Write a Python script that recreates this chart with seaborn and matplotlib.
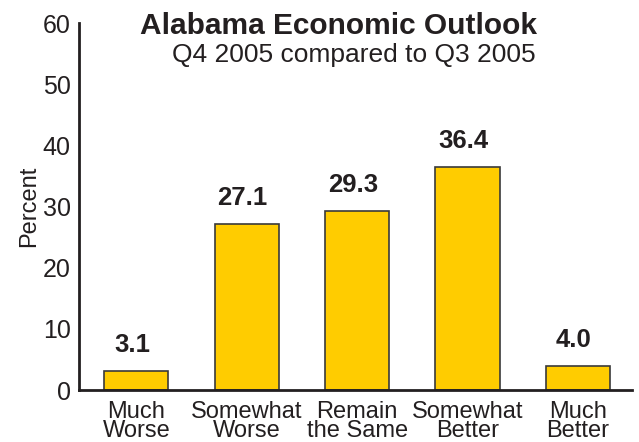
import matplotlib
matplotlib.use("Agg")
import matplotlib.pyplot as plt
import seaborn as sns
import pandas as pd

# Survey responses: expected change in Alabama's economy
categories = ["Much\nWorse", "Somewhat\nWorse", "Remain\nthe Same", "Somewhat\nBetter", "Much\nBetter"]
percent = [3.1, 27.1, 29.3, 36.4, 4.0]
y_ticks = [0, 10, 20, 30, 40, 50, 60]

title = "Alabama Economic Outlook"
subtitle = "Q4 2005 compared to Q3 2005"

df = pd.DataFrame({"category": categories, "percent": percent})

sns.set_theme(style="white")
plt.rcParams["font.family"] = ["Liberation Sans", "DejaVu Sans"]
text_color = "#231f20"

fig = plt.figure(figsize=(6.39, 4.42), dpi=100)
ax = fig.add_axes([0.1236, 0.1176, 0.8654, 0.8303])

sns.barplot(data=df, x="category", y="percent", ax=ax, color="#ffcc00",
            saturation=1, width=0.58, edgecolor="#3a3a3a", linewidth=1.2)

for i, v in enumerate(percent):
    ax.annotate(f"{v:.1f}", xy=(i - 0.04, v), xytext=(0, 10), textcoords="offset points",
                ha="center", va="bottom", fontsize=18.5, fontweight="bold", color=text_color)

ax.set_xlim(-0.52, 4.49)
ax.set_ylim(0, 60)
ax.set_yticks(y_ticks)
ax.tick_params(axis="both", length=0, labelsize=17, labelcolor=text_color)
ax.tick_params(axis="y", pad=6, labelsize=18)
ax.tick_params(axis="x", pad=8)
for lbl in ax.get_xticklabels():
    lbl.set_linespacing(0.82)
ax.set_xlabel("")
ax.set_ylabel("Percent", fontsize=17, color=text_color, labelpad=2)

for side in ["top", "right"]:
    ax.spines[side].set_visible(False)
for side in ["left", "bottom"]:
    ax.spines[side].set_color("#231f20")
    ax.spines[side].set_linewidth(2)

ax.text(0.47, 1.03, title, transform=ax.transAxes, ha="center", va="top",
        fontsize=21.5, fontweight="bold", color=text_color)
ax.text(0.497, 0.945, subtitle, transform=ax.transAxes, ha="center", va="top",
        fontsize=19, color=text_color)

fig.savefig("out.png", dpi=100)
